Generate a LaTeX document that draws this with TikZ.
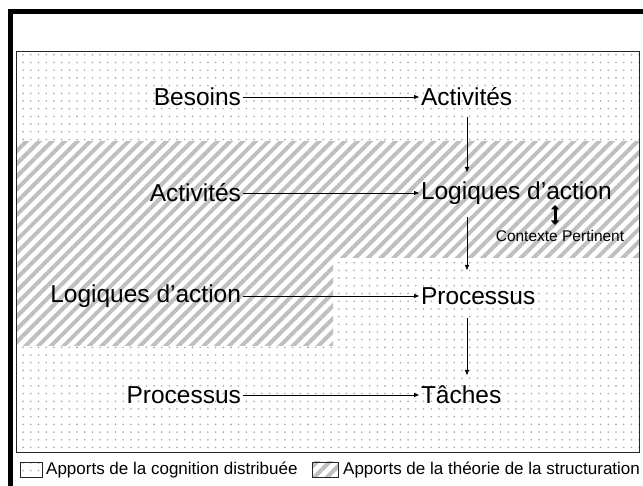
\documentclass[tikz,border=0pt]{standalone}
\usepackage{fontspec}
\setmainfont{Liberation Sans}
\usetikzlibrary{patterns.meta,arrows.meta}
\begin{document}
\begin{tikzpicture}[x=1pt,y=1pt,
  lbl/.style={inner sep=0pt,outer sep=2pt,font=\fontsize{24.5}{28}\selectfont},
  small/.style={inner sep=0pt,font=\fontsize{15.5}{18}\selectfont},
  legtxt/.style={inner sep=0pt,anchor=west,font=\fontsize{17}{20}\selectfont},
  dotfill/.style={pattern={Dots[distance=7.7pt,radius=0.9pt]},pattern color=gray!70},
  hatchfill/.style={pattern={Lines[angle=45,distance=9pt,line width=4pt]},pattern color=gray!50},
  arr/.style={line width=0.8pt,-{Triangle[length=5pt,width=4pt]}},
  dbl/.style={line width=3pt,{Triangle[length=4.5pt,width=8pt]}-{Triangle[length=4.5pt,width=8pt]}}]
\useasboundingbox (0,0) rectangle (643,486);
% outer thick border
\draw[line width=5pt] (10.5,0) -- (10.5,474.5) -- (643,474.5);
% regions
\fill[white] (16,34) rectangle (639,435);
\fill[dotfill] (16,34) rectangle (639,435);
\fill[white] (16,345) -- (639,345) -- (639,228) -- (333,228) -- (333,140) -- (16,140) -- cycle;
\fill[hatchfill] (16,345) -- (639,345) -- (639,228) -- (333,228) -- (333,140) -- (16,140) -- cycle;
\draw[black!85,line width=0.8pt] (16,34) rectangle (639,435);
% nodes
\node[lbl,anchor=east] (b1) at (243,389) {Besoins};
\node[lbl,anchor=west] (a1) at (419,389) {Activités};
\node[lbl,anchor=east] (a2) at (243,293) {Activités};
\node[lbl,anchor=west] (l2) at (419,293) {Logiques d’action};
\node[lbl,anchor=east] (l3) at (243,190) {Logiques d’action};
\node[lbl,anchor=west] (p3) at (419,190) {Processus};
\node[lbl,anchor=east] (p4) at (243,91) {Processus};
\node[lbl,anchor=west] (t4) at (419,91) {Tâches};
\node[small] (ctx) at (560,250) {Contexte Pertinent};
% arrow end points
\coordinate (v1s) at (467,369);
\coordinate (v1e) at (467,314);
\coordinate (v2s) at (467,269);
\coordinate (v2e) at (467,216);
\coordinate (v3s) at (467,168);
\coordinate (v3e) at (467,111);
\coordinate (ds) at (555,281);
\coordinate (de) at (555,261);
% connectors
\draw[arr] (b1) -- (a1);
\draw[arr] (a2) -- (l2);
\draw[arr] (l3) -- (p3);
\draw[arr] (p4) -- (t4);
\draw[arr] (v1s) -- (v1e);
\draw[arr] (v2s) -- (v2e);
\draw[arr] (v3s) -- (v3e);
\draw[dbl] (ds) -- (de);
% legend
\fill[white] (20,9) rectangle (42,24);
\fill[dotfill] (20,9) rectangle (42,24);
\draw[black!85,line width=0.8pt] (20,9) rectangle (42,24);
\node[legtxt] (lg1) at (46,16) {Apports de la cognition distribuée};
\fill[white] (312,9) rectangle (338,24);
\fill[hatchfill] (312,9) rectangle (338,24);
\draw[black!85,line width=0.8pt] (312,9) rectangle (338,24);
\node[legtxt] (lg2) at (343,16) {Apports de la théorie de la structuration};
\end{tikzpicture}
\end{document}
